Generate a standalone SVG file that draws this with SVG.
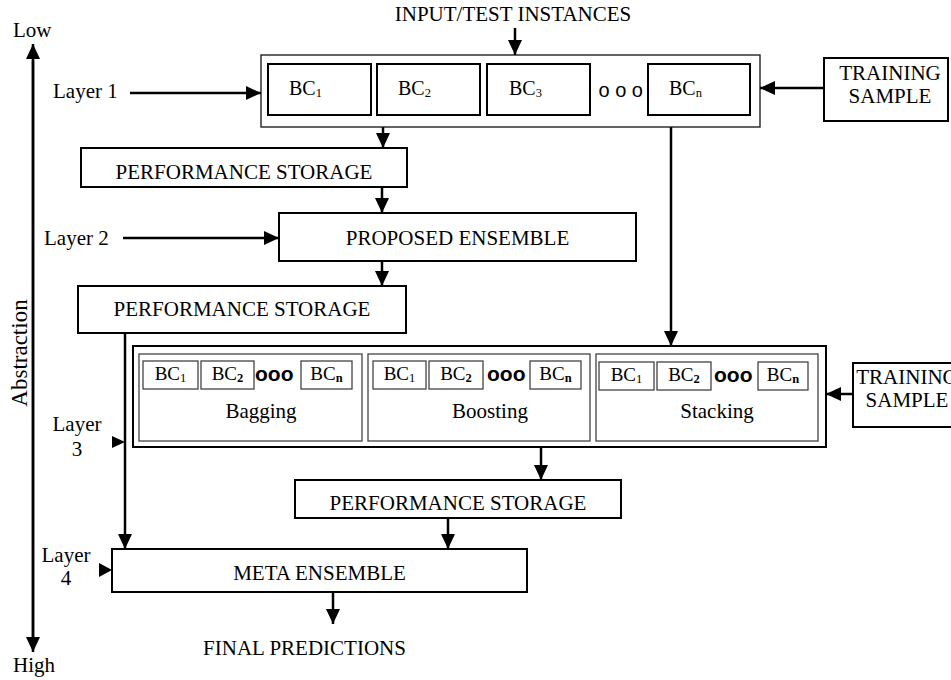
<svg xmlns="http://www.w3.org/2000/svg" width="951" height="680" viewBox="0 0 951 680">
<style>
text{font-family:"Liberation Serif","Times New Roman",serif;fill:#000}
.t{font-size:21px}
.bc{font-size:20px}
.sbc{font-size:19px}
.sub{font-size:12.5px}
.dots{font-family:"Liberation Sans",Arial,sans-serif;font-size:20px}
.sdots{font-family:"Liberation Sans",Arial,sans-serif;font-size:21px;font-weight:bold}
.box{fill:#fff;stroke:#000;stroke-width:2}
.thin{fill:none;stroke:#222;stroke-width:1.4}
.gray{fill:none;stroke:#444;stroke-width:1.3}
.c{text-anchor:middle}
.ln{fill:none;stroke:#000;stroke-width:2.5}
</style>
<defs>
<marker id="ah" markerUnits="userSpaceOnUse" markerWidth="15" markerHeight="14" refX="15" refY="7" orient="auto">
<path d="M0,0 L15,7 L0,14 Z" fill="#000"/>
</marker>
</defs>
<rect width="951" height="680" fill="#fff"/>

<g id="axis">
<line x1="33" y1="640" x2="33" y2="44" class="ln" marker-end="url(#ah)"/>
<line x1="33" y1="60" x2="33" y2="652" class="ln" marker-end="url(#ah)"/>
<text x="13" y="37" class="t">Low</text>
<text x="13" y="672" class="t">High</text>
<text class="c" font-size="23" transform="translate(27,353) rotate(-90)">Abstraction</text>
</g>

<g id="input"><text x="513" y="21" class="t c">INPUT/TEST INSTANCES</text></g>

<g id="layer1-label"><text x="53" y="98" class="t">Layer 1</text></g>
<g id="layer2-label"><text x="44" y="245" class="t">Layer 2</text></g>
<g id="layer3-label"><text x="77" y="431" class="t c">Layer</text><text x="77" y="456" class="t c">3</text></g>
<g id="layer4-label"><text x="66" y="562" class="t c">Layer</text><text x="66" y="585" class="t c">4</text></g>

<g id="layer1">
<rect x="261" y="55" width="499" height="72" class="thin" fill="#fff"/>
<rect x="268" y="64" width="103" height="51" class="box"/>
<rect x="377" y="64" width="103" height="51" class="box"/>
<rect x="487" y="64" width="103" height="51" class="box"/>
<rect x="648" y="64" width="102" height="51" class="box"/>
<text x="289" y="95" class="bc">BC<tspan class="sub" dy="2">1</tspan></text>
<text x="398" y="95" class="bc">BC<tspan class="sub" dy="2">2</tspan></text>
<text x="509" y="95" class="bc">BC<tspan class="sub" dy="2">3</tspan></text>
<text x="669" y="95" class="bc">BC<tspan class="sub" dy="2">n</tspan></text>
<text x="598.5" y="97" class="dots">o o o</text>
</g>

<g id="training1">
<rect x="824" y="58" width="124" height="63" class="box"/>
<text x="890" y="80" class="t c">TRAINING</text>
<text x="890" y="103" class="t c">SAMPLE</text>
</g>

<g id="perf1">
<rect x="81" y="148" width="326" height="39" class="box"/>
<text x="244" y="179" class="t c">PERFORMANCE STORAGE</text>
</g>

<g id="proposed">
<rect x="279" y="213" width="357" height="48" class="box"/>
<text x="457.5" y="245" class="t c">PROPOSED ENSEMBLE</text>
</g>

<g id="perf2">
<rect x="78" y="286" width="328" height="47" class="box"/>
<text x="242" y="316" class="t c">PERFORMANCE STORAGE</text>
</g>

<g id="layer3">
<rect x="133" y="346" width="693" height="101" class="box"/>
<rect x="139" y="354" width="223" height="87" class="gray"/>
<rect x="368" y="354" width="222" height="87" class="gray"/>
<rect x="596" y="354" width="222" height="87" class="gray"/>
<g id="bagging">
<rect x="143" y="361" width="55" height="28" class="gray"/>
<rect x="201" y="361" width="53" height="28" class="gray"/>
<rect x="301" y="361" width="51" height="28" class="gray"/>
<text x="170.5" y="380" class="sbc c">BC<tspan class="sub" dy="2">1</tspan></text>
<text x="227.5" y="380" class="sbc c">BC<tspan class="sub" dy="2" font-weight="bold">2</tspan></text>
<text x="326.5" y="380" class="sbc c">BC<tspan class="sub" dy="2" font-weight="bold">n</tspan></text>
<text x="255" y="381" class="sdots">ooo</text>
<text x="261" y="418" class="t c">Bagging</text>
</g>
<g id="boosting">
<rect x="373" y="361" width="53" height="28" class="gray"/>
<rect x="429" y="361" width="54" height="28" class="gray"/>
<rect x="530" y="361" width="51" height="28" class="gray"/>
<text x="399.5" y="380" class="sbc c">BC<tspan class="sub" dy="2">1</tspan></text>
<text x="456" y="380" class="sbc c">BC<tspan class="sub" dy="2" font-weight="bold">2</tspan></text>
<text x="555.5" y="380" class="sbc c">BC<tspan class="sub" dy="2" font-weight="bold">n</tspan></text>
<text x="487" y="381" class="sdots">ooo</text>
<text x="490" y="418" class="t c">Boosting</text>
</g>
<g id="stacking">
<rect x="599" y="362" width="55" height="28" class="gray"/>
<rect x="657" y="362" width="54" height="28" class="gray"/>
<rect x="758" y="362" width="50" height="28" class="gray"/>
<text x="626.5" y="381" class="sbc c">BC<tspan class="sub" dy="2">1</tspan></text>
<text x="684" y="381" class="sbc c">BC<tspan class="sub" dy="2" font-weight="bold">2</tspan></text>
<text x="783" y="381" class="sbc c">BC<tspan class="sub" dy="2" font-weight="bold">n</tspan></text>
<text x="714" y="382" class="sdots">ooo</text>
<text x="717" y="418" class="t c">Stacking</text>
</g>
</g>

<g id="training2">
<rect x="853" y="363" width="110" height="64" class="box"/>
<text x="907" y="384" class="t c">TRAINING</text>
<text x="907" y="407" class="t c">SAMPLE</text>
</g>

<g id="perf3">
<rect x="295" y="480" width="326" height="38" class="box"/>
<text x="458" y="510" class="t c">PERFORMANCE STORAGE</text>
</g>

<g id="meta">
<rect x="112" y="549" width="415" height="43" class="box"/>
<text x="319.5" y="580" class="t c">META ENSEMBLE</text>
</g>

<g id="final"><text x="304.5" y="655" class="t c">FINAL PREDICTIONS</text></g>

<g id="connectors">
<line x1="515" y1="28" x2="515" y2="55" class="ln" marker-end="url(#ah)"/>
<line x1="130" y1="93" x2="261" y2="93" class="ln" marker-end="url(#ah)"/>
<line x1="824" y1="88" x2="760" y2="88" class="ln" marker-end="url(#ah)"/>
<line x1="383" y1="127" x2="383" y2="148" class="ln" marker-end="url(#ah)"/>
<line x1="382" y1="187" x2="382" y2="213" class="ln" marker-end="url(#ah)"/>
<line x1="123" y1="238" x2="279" y2="238" class="ln" marker-end="url(#ah)"/>
<line x1="382" y1="261" x2="382" y2="286" class="ln" marker-end="url(#ah)"/>
<line x1="671" y1="127" x2="671" y2="346" class="ln" marker-end="url(#ah)"/>
<line x1="125" y1="333" x2="125" y2="549" class="ln" marker-end="url(#ah)"/>
<polygon points="112,436 125,442 112,448" fill="#000"/>
<line x1="853" y1="394" x2="826" y2="394" class="ln" marker-end="url(#ah)"/>
<line x1="541" y1="447" x2="541" y2="480" class="ln" marker-end="url(#ah)"/>
<line x1="448" y1="518" x2="448" y2="549" class="ln" marker-end="url(#ah)"/>
<polygon points="99,563 112,570 99,577" fill="#000"/>
<line x1="333" y1="592" x2="333" y2="624" class="ln" marker-end="url(#ah)"/>
</g>
</svg>
